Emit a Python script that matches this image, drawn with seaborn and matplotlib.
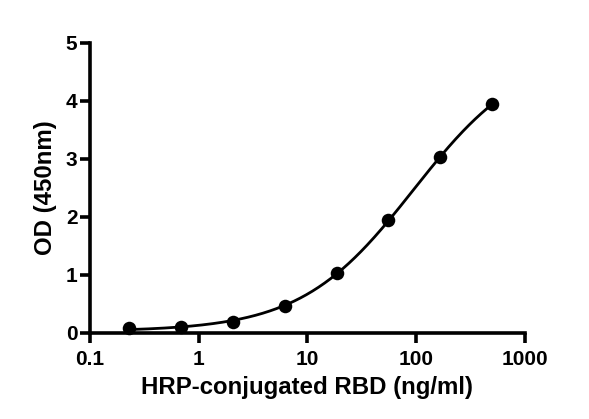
import matplotlib
matplotlib.use("Agg")
import matplotlib.pyplot as plt
import seaborn as sns
import pandas as pd
import numpy as np

# measured points (3-fold dilution series)
conc = [0.2286, 0.686, 2.058, 6.173, 18.52, 55.56, 166.7, 500.0]
od = [0.085, 0.10, 0.19, 0.47, 1.03, 1.94, 3.03, 3.95]

x_ticks = [0.1, 1, 10, 100, 1000]
x_tick_labels = ["0.1", "1", "10", "100", "1000"]
y_ticks = [0, 1, 2, 3, 4, 5]

df = pd.DataFrame({"conc": conc, "od": od})

# 4PL fit of the points (grid over EC50 / hill, linear least squares for bottom / top)
xs = np.array(conc)
ys = np.array(od)
best = None
for ec50 in np.logspace(1, 3, 200):
    for hill in np.linspace(0.5, 2.0, 151):
        f = 1.0 / (1.0 + (ec50 / xs) ** hill)
        A = np.column_stack([1 - f, f])
        coef, *_ = np.linalg.lstsq(A, ys, rcond=None)
        err = np.sum((A @ coef - ys) ** 2)
        if best is None or err < best[0]:
            best = (err, ec50, hill, coef)
_, ec50, hill, (bottom, top) = best

x_fit = np.logspace(np.log10(conc[0]), np.log10(conc[-1]), 300)
y_fit = bottom + (top - bottom) / (1 + (ec50 / x_fit) ** hill)
fit = pd.DataFrame({"conc": x_fit, "od": y_fit})

sns.set_style("ticks")
plt.rcParams["font.family"] = ["Liberation Sans", "DejaVu Sans"]
plt.rcParams["font.weight"] = "bold"
plt.rcParams["text.color"] = "black"
plt.rcParams["axes.labelcolor"] = "black"
plt.rcParams["axes.edgecolor"] = "black"

fig = plt.figure(figsize=(5.89, 4.19), dpi=100)
ax = fig.add_axes([0.1528, 0.2053, 0.7385, 0.6921])

sns.lineplot(data=fit, x="conc", y="od", color="black", linewidth=2.0, ax=ax)
sns.scatterplot(data=df, x="conc", y="od", color="black", s=95, edgecolor="black",
                linewidth=0, ax=ax, zorder=3, clip_on=False)

ax.set_xscale("log")
ax.set_xlim(0.1, 1000)
ax.set_ylim(0, 5)
ax.set_xticks(x_ticks)
ax.set_xticklabels(x_tick_labels)
ax.minorticks_off()
ax.set_yticks(y_ticks)

ax.set_xlabel("HRP-conjugated RBD (ng/ml)", fontsize=17.3, fontweight="bold",
              color="black", labelpad=5)
ax.set_ylabel("OD (450nm)", fontsize=17.3, fontweight="bold", color="black", labelpad=6)

for side in ["top", "right"]:
    ax.spines[side].set_visible(False)
for side in ["left", "bottom"]:
    ax.spines[side].set_linewidth(2.6)
    ax.spines[side].set_color("black")
ax.tick_params(axis="both", which="major", direction="out", length=7, width=2.6,
               labelsize=15, color="black", labelcolor="black", pad=2)
ax.tick_params(axis="x", pad=5)
for lab in ax.get_xticklabels() + ax.get_yticklabels():
    lab.set_fontweight("bold")

fig.savefig("out.png", dpi=100)
